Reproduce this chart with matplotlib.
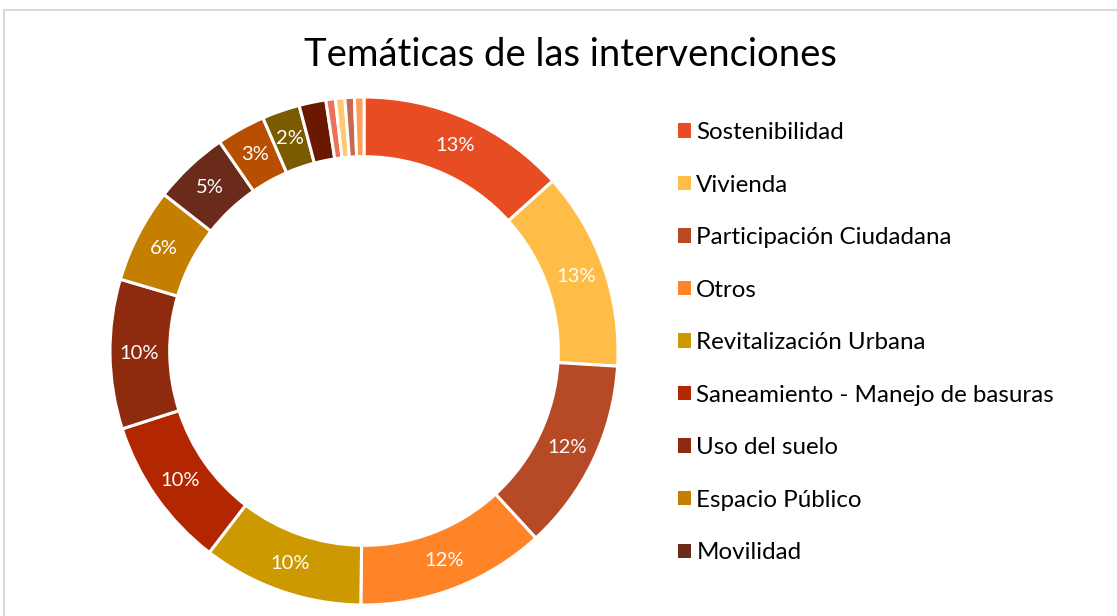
import matplotlib.pyplot as plt
from matplotlib.patches import Rectangle

# Data (percent of interventions)
categories = ['Sostenibilidad', 'Vivienda', 'Participación Ciudadana', 'Otros',
              'Revitalización Urbana', 'Saneamiento - Manejo de basuras',
              'Uso del suelo', 'Espacio Público', 'Movilidad']
# the remaining slices are not named in the legend of the original
shares = [13.3, 12.6, 12.2, 12.0, 10.2, 9.6, 9.5, 6.0, 4.8, 3.1, 2.4, 1.7,
          0.6, 0.6, 0.6, 0.6]
colors = ['#E84C22', '#FFBD47', '#B64926', '#FF8427', '#CC9900', '#B22600',
          '#8E2B0F', '#C47F00', '#6B2B1A', '#B84E00', '#7A5B00', '#6B1800',
          '#F0715A', '#FFC970', '#C7694D', '#FF9D52']

W, H = 1117, 616
fig = plt.figure(figsize=(W / 100, H / 100), dpi=100)
plt.rcParams['font.family'] = ['Lato', 'DejaVu Sans']

# light gray frame (top and left edges visible in the reference)
fig.patches.append(Rectangle((4 / W, -0.1), 1.2, (H - 10) / H + 0.1,
                             transform=fig.transFigure, fill=False,
                             edgecolor='#D9D9D9', linewidth=1.5))

cx, cy, r = 364, 351, 254
ax = fig.add_axes([(cx - r) / W, (H - cy - r) / H, 2 * r / W, 2 * r / H])


def pct_label(p):
    # the original only labels slices of 2% or more
    return f'{p:.0f}%' if p >= 1.95 else ''


wedges, texts, autotexts = ax.pie(
    shares, colors=colors, startangle=90, counterclock=False, radius=1,
    autopct=pct_label, pctdistance=0.885,
    wedgeprops=dict(width=0.235, edgecolor='white', linewidth=2.2),
    textprops=dict(color='white', fontsize=14.5))
ax.set_xlim(-1, 1)
ax.set_ylim(-1, 1)
ax.set_aspect('equal')

fig.text(570 / W, (H - 55) / H, 'Temáticas de las intervenciones',
         ha='center', va='center', fontsize=27.5, color='#000000')

leg = fig.legend(wedges[:9], categories, loc='upper left',
                 bbox_to_anchor=(678 / W, (H - 122) / H), borderpad=0,
                 borderaxespad=0, frameon=False, fontsize=17.4,
                 handlelength=0.54, handleheight=0.54, handletextpad=0.22,
                 labelspacing=1.305)
for h in leg.legend_handles:
    h.set_linewidth(0)

fig.savefig('out.png', dpi=100, facecolor='white')
